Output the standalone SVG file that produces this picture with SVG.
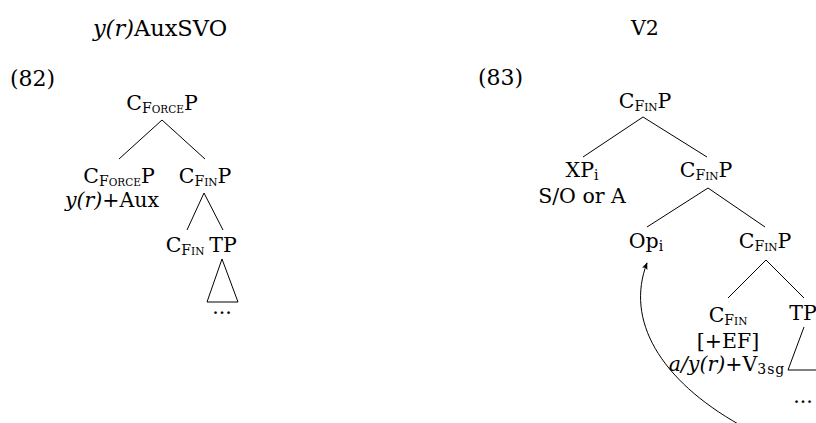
<svg xmlns="http://www.w3.org/2000/svg" width="816" height="423" viewBox="0 0 816 423">
<style>
text{font-family:"DejaVu Serif","Liberation Serif",serif;font-size:20.5px;fill:#000}
.mid{text-anchor:middle}
.it{font-style:italic}
.s1{font-size:14px}
.s2{font-size:10.5px}
.sub{font-size:14px}
.edge{stroke:#000;stroke-width:1;fill:none}
</style>
<defs>
<marker id="ah" viewBox="0 0 10 10" refX="9" refY="5" markerWidth="7" markerHeight="7" orient="auto" markerUnits="userSpaceOnUse">
<path d="M0,1 L10,5 L0,9 L2,5 Z" fill="#000"/>
</marker>
</defs>
<rect width="816" height="423" fill="#fff"/>
<text class="mid" x="160" y="36" style="font-size:22.5px"><tspan class="it">y(r)</tspan>AuxSVO</text>
<text class="mid" x="645" y="35">V2</text>
<text x="10" y="86" style="font-size:22px">(82)</text>
<text x="478" y="85" style="font-size:22px">(83)</text>

<g id="connectors">
<line class="edge" x1="162" y1="120" x2="119" y2="159"/>
<line class="edge" x1="162" y1="120" x2="205" y2="159"/>
<line class="edge" x1="204" y1="193" x2="187" y2="230"/>
<line class="edge" x1="204" y1="193" x2="223" y2="230"/>
<path class="edge" d="M222,259 L207,302 L238,302 Z"/>
<line class="edge" x1="643" y1="117" x2="583" y2="157"/>
<line class="edge" x1="643" y1="117" x2="707" y2="157"/>
<line class="edge" x1="708" y1="188" x2="647" y2="227"/>
<line class="edge" x1="708" y1="188" x2="765" y2="227"/>
<line class="edge" x1="766" y1="260" x2="728" y2="298"/>
<line class="edge" x1="766" y1="260" x2="804" y2="298"/>
<path class="edge" d="M804,327 L788,370 L822,370"/>
<path class="edge" d="M740,425 C660,380 625,320 647,263" marker-end="url(#ah)"/>
</g>

<g id="n82-root"><text class="mid" x="162" y="110">C<tspan class="s1" dy="3">F</tspan><tspan class="s2">ORCE</tspan><tspan dy="-3">P</tspan></text></g>
<g id="n82-force"><text class="mid" x="119" y="183">C<tspan class="s1" dy="3">F</tspan><tspan class="s2">ORCE</tspan><tspan dy="-3">P</tspan></text>
<text class="mid" x="112" y="207"><tspan class="it">y(r)</tspan>+Aux</text></g>
<g id="n82-finp"><text class="mid" x="205" y="183">C<tspan class="s1" dy="3">F</tspan><tspan class="s2">IN</tspan><tspan dy="-3">P</tspan></text></g>
<g id="n82-fin"><text class="mid" x="185" y="252">C<tspan class="s1" dy="3">F</tspan><tspan class="s2">IN</tspan></text></g>
<g id="n82-tp"><text class="mid" x="223" y="252">TP</text>
<text class="mid" x="222" y="314">...</text></g>

<g id="n83-root"><text class="mid" x="645" y="108">C<tspan class="s1" dy="3">F</tspan><tspan class="s2">IN</tspan><tspan dy="-3">P</tspan></text></g>
<g id="n83-xp"><text class="mid" x="582" y="177">XP<tspan class="sub" dy="3">i</tspan></text>
<text class="mid" x="582" y="203">S/O or A</text></g>
<g id="n83-finp2"><text class="mid" x="706" y="177">C<tspan class="s1" dy="3">F</tspan><tspan class="s2">IN</tspan><tspan dy="-3">P</tspan></text></g>
<g id="n83-op"><text class="mid" x="646" y="248">Op<tspan class="sub" dy="3">i</tspan></text></g>
<g id="n83-finp3"><text class="mid" x="765" y="248">C<tspan class="s1" dy="3">F</tspan><tspan class="s2">IN</tspan><tspan dy="-3">P</tspan></text></g>
<g id="n83-fin"><text class="mid" x="728" y="322">C<tspan class="s1" dy="3">F</tspan><tspan class="s2">IN</tspan></text>
<text class="mid" x="728" y="348">[+EF]</text>
<text class="mid" x="727" y="371"><tspan class="it">a/y(r)</tspan>+V<tspan class="sub" dy="3" letter-spacing="1">3sg</tspan></text></g>
<g id="n83-tp"><text class="mid" x="803" y="320">TP</text>
<text class="mid" x="803" y="403">...</text></g>
</svg>
